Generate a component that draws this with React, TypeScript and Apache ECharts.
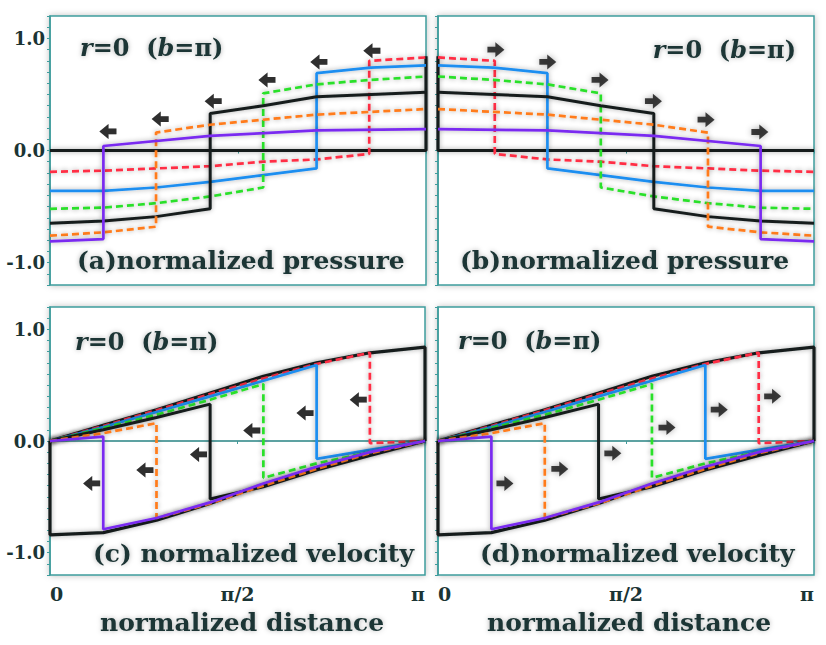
import React, { useEffect, useRef } from 'react';
import * as echarts from 'echarts';

// x in units of pi (0 .. 1 => 0 .. π)
const xTickValues = [0, 0.5, 1];
const xTickLabels = ['0', 'π/2', 'π'];
const yTickValues = [-1, 0, 1];
const yTickLabels = ['-1.0', '0.0', '1.0'];

// ---- (a) normalized pressure, waves moving left ----
const pA_purple = [[0, -0.81], [0.142, -0.79], [0.142, 0.04], [0.426, 0.13], [0.709, 0.18], [1, 0.19]];
const pA_orange = [[0, -0.76], [0.142, -0.73], [0.282, -0.68], [0.282, 0.16], [0.426, 0.23], [0.709, 0.32], [1, 0.37]];
const pA_black = [[0, -0.65], [0.142, -0.63], [0.282, -0.59], [0.426, -0.52], [0.426, 0.33], [0.567, 0.4], [0.709, 0.48], [1, 0.52]];
const pA_green = [[0, -0.52], [0.142, -0.51], [0.282, -0.47], [0.426, -0.41], [0.567, -0.33], [0.567, 0.51], [0.709, 0.59], [0.853, 0.63], [1, 0.66]];
const pA_blue = [[0, -0.36], [0.142, -0.36], [0.282, -0.33], [0.426, -0.28], [0.567, -0.22], [0.709, -0.16], [0.709, 0.69], [0.853, 0.74], [1, 0.76]];
const pA_red = [[0, -0.19], [0.142, -0.18], [0.282, -0.16], [0.426, -0.14], [0.567, -0.1], [0.709, -0.08], [0.849, -0.03], [0.849, 0.8], [1, 0.83]];
const pA_final = [[0, 0], [1, 0], [1, 0.84]];
const arrowsA = [[0.154, 0.17], [0.293, 0.28], [0.434, 0.44], [0.577, 0.63], [0.715, 0.79], [0.856, 0.89]];

// ---- (b) normalized pressure, waves moving right ----
const pB_purple = [[0, 0.19], [0.291, 0.18], [0.574, 0.13], [0.858, 0.04], [0.858, -0.79], [1, -0.81]];
const pB_orange = [[0, 0.37], [0.291, 0.32], [0.574, 0.23], [0.718, 0.16], [0.718, -0.68], [0.858, -0.73], [1, -0.76]];
const pB_black = [[0, 0.52], [0.291, 0.48], [0.433, 0.4], [0.574, 0.33], [0.574, -0.52], [0.718, -0.59], [0.858, -0.63], [1, -0.65]];
const pB_green = [[0, 0.66], [0.147, 0.63], [0.291, 0.59], [0.433, 0.51], [0.433, -0.33], [0.574, -0.41], [0.718, -0.47], [0.858, -0.51], [1, -0.52]];
const pB_blue = [[0, 0.76], [0.147, 0.74], [0.291, 0.69], [0.291, -0.16], [0.433, -0.22], [0.574, -0.28], [0.718, -0.33], [0.858, -0.36], [1, -0.36]];
const pB_red = [[0, 0.83], [0.151, 0.8], [0.151, -0.03], [0.291, -0.08], [0.433, -0.1], [0.574, -0.14], [0.718, -0.16], [0.858, -0.18], [1, -0.19]];
const pB_final = [[0, 0.84], [0, 0], [1, 0]];
const arrowsB = [[0.154, 0.9], [0.292, 0.79], [0.431, 0.63], [0.573, 0.44], [0.713, 0.275], [0.856, 0.165]];

// ---- (c)/(d) normalized velocity (same profiles) ----
const v_initial = [[0, 0], [0, -0.84], [0.142, -0.82], [0.284, -0.71], [0.427, -0.56], [0.569, -0.39], [0.711, -0.24], [0.853, -0.1], [1, 0]];
const v_purple = [[0, 0], [0.142, 0.04], [0.142, -0.79], [0.284, -0.69], [0.427, -0.55], [0.569, -0.38], [0.711, -0.23], [0.853, -0.1], [1, 0]];
const v_orange = [[0, 0], [0.142, 0.07], [0.284, 0.16], [0.284, -0.69], [0.427, -0.56], [0.569, -0.4], [0.711, -0.25], [0.853, -0.11], [1, 0]];
const v_black = [[0, 0], [0.142, 0.1], [0.284, 0.21], [0.427, 0.33], [0.427, -0.52], [0.569, -0.41], [0.711, -0.26], [0.853, -0.13], [1, 0]];
const v_green = [[0, 0], [0.142, 0.115], [0.284, 0.235], [0.427, 0.37], [0.569, 0.51], [0.569, -0.33], [0.711, -0.2], [0.853, -0.1], [1, 0]];
const v_blue = [[0, 0], [0.142, 0.125], [0.284, 0.26], [0.427, 0.4], [0.569, 0.54], [0.711, 0.68], [0.711, -0.16], [0.853, -0.08], [1, 0]];
const v_red = [[0, 0], [0.142, 0.135], [0.284, 0.275], [0.427, 0.42], [0.569, 0.56], [0.711, 0.69], [0.853, 0.79], [0.853, -0.02], [1, 0]];
const v_final = [[0, 0], [0.142, 0.14], [0.284, 0.28], [0.427, 0.43], [0.569, 0.58], [0.711, 0.7], [0.853, 0.79], [1, 0.84], [1, 0]];
const zeroLine = [[0, 0], [1, 0]];
const arrowsC = [[0.111, -0.38], [0.253, -0.26], [0.396, -0.12], [0.538, 0.094], [0.68, 0.25], [0.822, 0.37]];
const arrowsD = [[0.178, -0.38], [0.324, -0.25], [0.465, -0.11], [0.609, 0.12], [0.748, 0.28], [0.89, 0.4]];

const C = {
  purple: '#7a2cf0',
  orange: '#ff7b1c',
  black: '#151d1d',
  green: '#2be02b',
  blue: '#1f8ef0',
  red: '#ff2f45',
  frame: '#3f9d9d',
  text: '#1b3434',
};

const FONT = '"DejaVu Serif", serif';
const ARROW = 'path://M0,4 L7,4 L7,0 L15,6.5 L7,13 L7,9 L0,9 Z';

function line(idx: number, data: number[][], color: string, dashed: boolean, width = 2.7, z = 3) {
  return {
    type: 'line',
    xAxisIndex: idx,
    yAxisIndex: idx,
    data,
    showSymbol: false,
    symbol: 'none',
    z,
    silent: true,
    lineStyle: {
      color,
      width,
      type: dashed ? [7, 4] : 'solid',
      shadowColor: 'rgba(0,0,0,0.35)',
      shadowBlur: 5,
    },
  };
}

function arrows(idx: number, data: number[][], rotate: number) {
  return {
    type: 'scatter',
    xAxisIndex: idx,
    yAxisIndex: idx,
    data,
    symbol: ARROW,
    symbolSize: [17, 15],
    symbolRotate: rotate,
    z: 6,
    silent: true,
    itemStyle: { color: '#111', shadowColor: 'rgba(0,0,0,0.4)', shadowBlur: 6 },
  };
}

const grids = [
  { left: 50, top: 16, width: 376, height: 269 },
  { left: 438, top: 16, width: 376, height: 269 },
  { left: 50, top: 307, width: 375, height: 268 },
  { left: 438, top: 307, width: 376, height: 268 },
];

const TS = { textShadowColor: 'rgba(0,0,0,0.3)', textShadowBlur: 5 };

function title(x: number, y: number, align: string) {
  return {
    type: 'text',
    x,
    y,
    z: 10,
    style: {
      text: '{i|r}{n|=0  (}{i|b}{n|=π)}',
      align,
      verticalAlign: 'middle',
      rich: {
        i: { fontFamily: FONT, fontSize: 24, fontWeight: 'bold', fontStyle: 'italic', fill: C.text, ...TS },
        n: { fontFamily: FONT, fontSize: 24, fontWeight: 'bold', fill: C.text, ...TS },
      },
    },
  };
}

function label(x: number, y: number, text: string) {
  return {
    type: 'text',
    x,
    y,
    z: 10,
    style: {
      text,
      fontFamily: FONT,
      fontSize: 25,
      fontWeight: 'bold',
      fill: C.text,
      align: 'left',
      verticalAlign: 'middle',
      ...TS,
    },
  };
}

export default function App() {
  const ref = useRef<HTMLDivElement>(null);
  useEffect(() => {
    if (!ref.current) return;
    const chart = echarts.init(ref.current, undefined, { renderer: 'svg' });
    const xAxis = grids.map((_, i) => ({
      type: 'value',
      gridIndex: i,
      min: 0,
      max: 1,
      interval: 0.5,
      axisLine: { show: true, lineStyle: { color: C.frame, width: 1.5 } },
      axisTick: { show: true, length: 3, lineStyle: { color: C.frame } },
      splitLine: { show: false },
      axisLabel: {
        show: i >= 2,
        margin: 9,
        fontFamily: FONT,
        fontWeight: 'bold',
        fontSize: 19,
        color: C.text,
        alignMinLabel: 'left',
        alignMaxLabel: 'right',
        formatter: (v: number) => {
          const k = xTickValues.findIndex((t) => Math.abs(t - v) < 1e-6);
          return k >= 0 ? xTickLabels[k] : '';
        },
      },
    }));
    const yAxis = grids.map((_, i) => ({
      type: 'value',
      gridIndex: i,
      min: -1.2,
      max: 1.2,
      interval: 0.1,
      axisLine: { show: true, lineStyle: { color: C.frame, width: 1.5 } },
      axisTick: { show: true, length: 3, lineStyle: { color: C.frame } },
      splitLine: { show: false },
      axisLabel: {
        show: i === 0 || i === 2,
        margin: 5,
        fontFamily: FONT,
        fontWeight: 'bold',
        fontSize: 18,
        color: C.text,
        formatter: (v: number) => {
          const k = yTickValues.findIndex((t) => Math.abs(t - v) < 1e-6);
          return k >= 0 ? yTickLabels[k] : '';
        },
      },
    }));
    const series: any[] = [
      // (a)
      line(0, pA_final, C.black, false, 3.2, 2),
      line(0, pA_red, C.red, true),
      line(0, pA_blue, C.blue, false),
      line(0, pA_green, C.green, true),
      line(0, pA_black, C.black, false, 3),
      line(0, pA_orange, C.orange, true),
      line(0, pA_purple, C.purple, false),
      arrows(0, arrowsA, 180),
      // (b)
      line(1, pB_final, C.black, false, 3.2, 2),
      line(1, pB_red, C.red, true),
      line(1, pB_blue, C.blue, false),
      line(1, pB_green, C.green, true),
      line(1, pB_black, C.black, false, 3),
      line(1, pB_orange, C.orange, true),
      line(1, pB_purple, C.purple, false),
      arrows(1, arrowsB, 0),
    ];
    [2, 3].forEach((g) => {
      series.push(
        { ...line(g, zeroLine, '#4d8f8f', false, 1, 1), lineStyle: { color: '#4d8f8f', width: 1 } },
        line(g, v_initial, C.black, false, 3.2, 2),
        line(g, v_final, C.black, false, 3.2, 2),
        line(g, v_red, C.red, true),
        line(g, v_blue, C.blue, false),
        line(g, v_green, C.green, true),
        line(g, v_black, C.black, false, 3),
        line(g, v_orange, C.orange, true),
        line(g, v_purple, C.purple, false),
        arrows(g, g === 2 ? arrowsC : arrowsD, g === 2 ? 180 : 0)
      );
    });
    chart.setOption({
      animation: false,
      backgroundColor: '#ffffff',
      grid: grids.map((g) => ({
        ...g,
        show: true,
        borderColor: C.frame,
        borderWidth: 1.5,
        backgroundColor: '#ffffff',
        shadowColor: 'rgba(0,0,0,0.25)',
        shadowBlur: 6,
      })),
      xAxis,
      yAxis,
      series,
      graphic: [
        title(80, 47, 'left'),
        title(796, 49, 'right'),
        title(75, 341, 'left'),
        title(458, 340, 'left'),
        label(77, 260, '(a)normalized pressure'),
        label(460, 260, '(b)normalized pressure'),
        label(93, 553, '(c) normalized velocity'),
        label(480, 553, '(d)normalized velocity'),
        label(100, 622, 'normalized distance'),
        label(487, 622, 'normalized distance'),
      ],
    });
    return () => chart.dispose();
  }, []);
  return (
    <div
      ref={ref}
      style={{ position: 'fixed', left: 0, top: 0, width: 826, height: 645, background: '#fff' }}
    />
  );
}
